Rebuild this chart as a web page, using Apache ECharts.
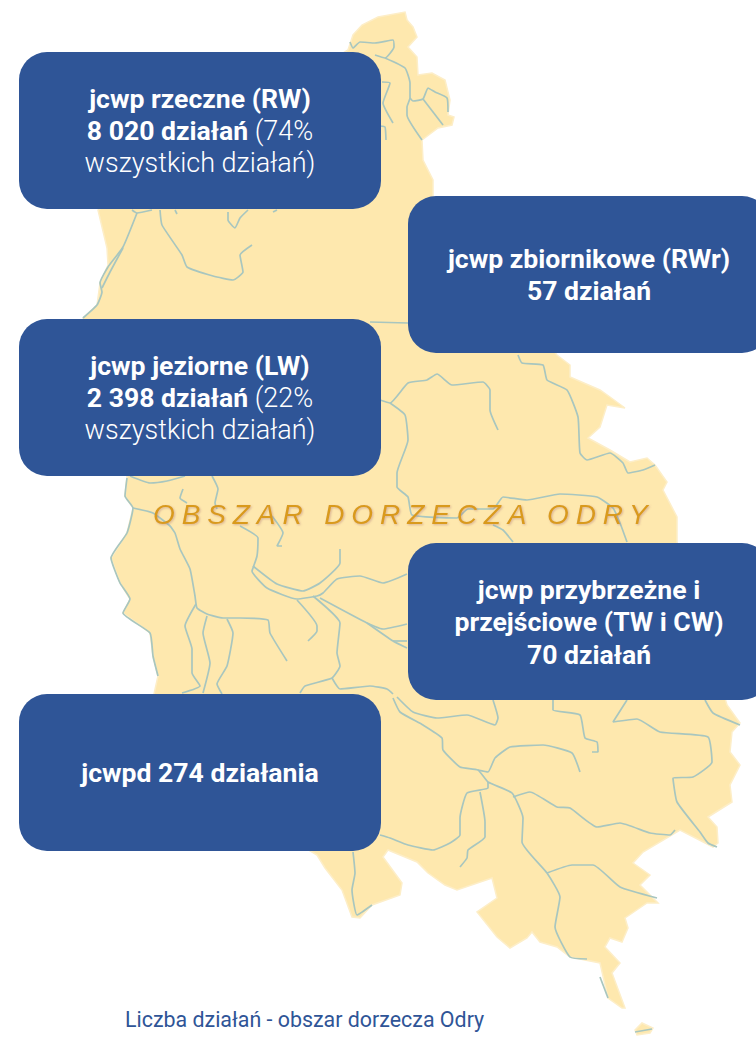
<!DOCTYPE html>
<html>
<head>
<meta charset="utf-8">
<style>
  html, body { margin: 0; padding: 0; background: #fff; }
  #chart { width: 756px; height: 1037px; }
  /* echarts has no letter spacing option, the svg text takes it from css */
  #chart text[style*="italic"] { letter-spacing: 6.9px; }
</style>
<script src="https://cdn.jsdelivr.net/npm/echarts@6/dist/echarts.min.js"></script>
</head>
<body>
<div id="chart"></div>
<script>
// basin shape, in the units of the hidden x/y axes
const basinOutline = [
  [405,12],[407,20],[413,27],[417,37],[408,47],[417,57],[418,75],[432,73],[445,80],[450,100],[448,115],[454,117],[452,125],[438,128],[422,140],[423,160],[433,180],[433,197],
  [557,355],[570,365],[570,377],[600,390],[610,397],[625,408],[607,405],[600,427],[588,438],[610,450],[630,462],[647,458],[655,465],[667,482],[663,490],[677,517],[677,542],
  [727,705],[740,723],[732,732],[730,752],[740,765],[730,785],[732,802],[708,817],[717,827],[718,843],[713,847],[680,830],[643,852],[633,863],[650,875],[640,885],[658,903],[647,903],[625,918],[628,928],[622,942],[610,938],[605,947],[620,963],[612,973],[625,1008],[622,1008],[608,998],[600,963],[570,957],[557,947],[540,942],[532,932],[527,938],[510,948],[497,937],[477,912],[497,898],[492,878],[457,890],[445,885],[428,873],[417,862],[388,850],[383,857],[402,883],[400,895],[372,905],[360,918],[352,917],[342,890],[325,868],[317,855],[310,851],
  [154,694],[158,676],[153,656],[150,633],[123,613],[130,599],[120,583],[111,558],[127,533],[133,508],[125,496],[127,476],
  [83,318],[97,305],[100,283],[108,265],[107,248],[98,210],
  [348,50],[353,35],[362,25],[378,17]
];
const basinIsland = [[635,1030],[642,1023],[653,1028],[650,1033],[637,1035]];

const rivers = [
  [[350,42],[353,48],[360,42],[375,43],[393,40],[394,47],[385,58],[375,55]],
  [[385,58],[405,68],[410,83],[410,98],[407,107],[407,115],[422,140]],
  [[410,98],[413,101],[423,99],[428,88],[435,92],[447,98],[448,112]],
  [[423,99],[443,125]],
  [[382,82],[390,83],[383,103],[393,123]],
  [[380,126],[385,127],[386,140]],
  [[137,213],[123,247],[108,267],[100,283],[102,292],[97,305],[83,318]],
  [[123,248],[110,272],[102,288]],
  [[132,210],[137,213],[152,210]],
  [[160,210],[162,225],[182,255],[187,267],[213,276],[233,280],[243,272],[240,255],[252,245]],
  [[228,212],[228,220],[235,228],[240,218],[248,210]],
  [[175,210],[177,214]],
  [[277,210],[273,212]],
  [[370,322],[408,323]],
  [[518,355],[522,363],[543,365],[547,380],[567,390],[578,417],[580,453],[587,460],[610,453],[623,463],[628,473],[643,470],[655,465]],
  [[498,430],[490,410],[490,390],[483,382],[452,385],[437,374],[427,380],[408,383],[390,403],[380,400]],
  [[390,403],[405,415],[408,440],[397,473],[397,487],[408,497],[412,515],[457,518],[468,509],[493,509],[503,497],[527,500],[560,494],[597,497],[613,508],[620,523],[627,542]],
  [[493,525],[503,530],[513,542]],
  [[130,476],[150,483],[167,481],[185,476]],
  [[183,489],[180,498],[187,503]],
  [[212,476],[218,489],[215,503],[217,509]],
  [[133,508],[153,513],[170,526],[175,533],[180,549],[190,569],[195,596],[197,608],[207,614],[223,618],[240,618],[268,620],[270,633],[287,661]],
  [[127,478],[125,496],[133,508],[127,533],[111,558],[120,583],[130,599],[123,613],[150,633],[153,656],[158,676]],
  [[240,526],[258,538],[257,556],[253,568],[252,571],[267,588],[297,599],[317,596],[323,593],[337,579],[360,576],[383,583],[407,574]],
  [[253,566],[277,584],[303,591],[320,583],[340,563],[340,549]],
  [[297,600],[317,626],[317,631],[308,641]],
  [[272,516],[283,533],[277,546],[282,546]],
  [[313,596],[340,623],[337,653],[340,666],[332,678],[305,686],[300,693]],
  [[332,678],[340,689],[370,686],[387,689],[393,694]],
  [[320,598],[367,623],[383,629],[407,624]],
  [[367,623],[393,641],[407,648]],
  [[393,641],[407,641]],
  [[196,604],[185,626],[192,649],[192,673],[200,686],[182,693]],
  [[207,616],[203,633],[210,663],[203,693]],
  [[227,619],[233,633],[227,666],[217,684],[222,694]],
  [[393,698],[400,712],[423,725],[442,738],[443,750],[460,767],[478,770],[488,782],[512,793],[523,818],[522,842],[547,873],[560,897],[555,927],[570,957],[587,959]],
  [[397,697],[413,712],[437,718],[467,715],[495,725],[498,718],[493,700]],
  [[553,700],[553,710],[580,715],[585,738],[597,742],[598,752],[592,752]],
  [[627,700],[613,722],[637,719],[660,732],[708,737],[712,762],[693,777],[673,778],[677,802],[700,832],[708,843],[717,847]],
  [[705,700],[713,713],[740,725]],
  [[580,772],[572,753],[543,745],[510,747],[495,758],[488,772],[478,770]],
  [[513,797],[530,792],[557,807],[570,808],[597,827],[620,823],[650,833],[670,835],[675,830]],
  [[488,782],[488,788],[467,793],[460,818],[460,835],[450,843],[433,850],[408,845],[390,838],[380,835]],
  [[480,792],[485,822],[485,837],[468,850],[467,858],[460,867]],
  [[353,852],[355,873],[352,890],[357,915],[372,905]],
  [[547,873],[572,865],[593,865],[620,887],[657,898]],
  [[600,977],[608,998]],
  [[635,1032],[652,1029]]
];

// box texts, {b|} bold and {l|} light
const boxTexts = [
  "{b|jcwp rzeczne (RW)}\n{b|8 020 działań }{l|(74%}\n{l|wszystkich działań)}",
  "{b|jcwp zbiornikowe (RWr)}\n{b|57 działań}",
  "{b|jcwp jeziorne (LW)}\n{b|2 398 działań }{l|(22%}\n{l|wszystkich działań)}",
  "{b|jcwp przybrzeżne i}\n{b|przejściowe (TW i CW)}\n{b|70 działań}",
  "{b|jcwpd 274 działania}"
];
const boxLeft = [19, 408, 19, 408, 19];
const boxTop = [52, 196, 319, 543, 694];

const regionLabel = "OBSZAR DORZECZA ODRY";
const caption = "Liczba działań - obszar dorzecza Odry";

const BOX_W = 362;
const BOX_H = 157;
const BLUE = "#2f5597";

const myChart = echarts.init(document.getElementById("chart"), null, { renderer: "svg" });

const renderBasin = (params, api) => {
  const points = params.dataIndex === 0 ? basinOutline : basinIsland;
  return {
    type: "polygon",
    shape: { points: points.map((p) => api.coord(p)) },
    style: { fill: "#fee8ae", stroke: "#fdeec8", lineWidth: 1.5 },
  };
};

const boxes = boxTexts.map((text, i) => ({
  type: "group",
  z: 20,
  children: [
    {
      type: "rect",
      shape: { x: boxLeft[i], y: boxTop[i], width: BOX_W, height: BOX_H, r: 28 },
      style: { fill: BLUE },
      z: 20,
    },
    {
      type: "text",
      x: boxLeft[i] + BOX_W / 2,
      y: boxTop[i] + BOX_H / 2,
      z: 21,
      style: {
        text: text,
        align: "center",
        verticalAlign: "middle",
        rich: {
          b: { fontFamily: "Roboto", fontSize: 26.6, fontWeight: 700, lineHeight: 32.5, fill: "#fff", color: "#fff" },
          l: { fontFamily: "Roboto", fontSize: 27, fontWeight: 300, lineHeight: 32.5, fill: "#fff", color: "#fff" },
        },
      },
    },
  ],
}));

myChart.setOption({
  animation: false,
  grid: { left: 0, right: 0, top: 0, bottom: 0 },
  xAxis: { type: "value", min: 0, max: 756, show: false },
  yAxis: { type: "value", min: 0, max: 1037, inverse: true, show: false },
  series: [
    {
      type: "custom",
      z: 1,
      silent: true,
      clip: false,
      renderItem: renderBasin,
      data: [[0, 0], [0, 0]],
    },
    ...rivers.map((river) => ({
      type: "line",
      z: 2,
      silent: true,
      symbol: "none",
      smooth: 0.15,
      data: river,
      lineStyle: { color: "#a8c6bf", width: 1.7 },
    })),
  ],
  graphic: [
    {
      type: "text",
      x: 153,
      y: 514,
      z: 10,
      style: {
        text: regionLabel,
        fontFamily: "Liberation Sans",
        fontStyle: "italic",
        fontSize: 28,
        fill: "#d99a1f",
        verticalAlign: "middle",
        textShadowColor: "rgba(170,110,110,0.45)",
        textShadowBlur: 2,
        textShadowOffsetX: 1,
        textShadowOffsetY: 1,
      },
    },
    ...boxes,
    {
      type: "text",
      x: 125,
      y: 1019,
      z: 10,
      style: {
        text: caption,
        fontFamily: "Roboto",
        fontSize: 21.4,
        fill: BLUE,
        verticalAlign: "middle",
      },
    },
  ],
});
</script>
</body>
</html>
